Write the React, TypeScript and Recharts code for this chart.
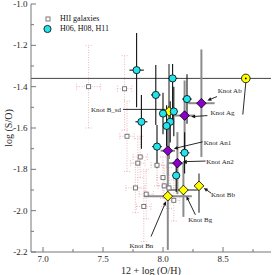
import React from 'react';
import { ScatterChart, Scatter, XAxis, YAxis, ErrorBar, ReferenceLine, Legend } from 'recharts';

const FONT = '"Liberation Serif", "Times New Roman", serif';
const AXIS_COLOR = '#767676';
const TEXT_COLOR = '#1e1e1e';

const xDomain = [6.9, 8.9];
const yDomain = [-2.2, -1.0];
const xTicks = [7.0, 7.25, 7.5, 7.75, 8.0, 8.25, 8.5, 8.75];
const yTicks = [-2.2, -2.1, -2.0, -1.9, -1.8, -1.7, -1.6, -1.5, -1.4, -1.3, -1.2, -1.1, -1.0];
const solarSO = -1.36;

// HII galaxies (gray squares); ey as [down, up] where asymmetric
const hiiGalaxies = [
  { x: 7.38, y: -1.40, ex: 0.10, ey: 0.20 },
  { x: 7.68, y: -1.41, ex: 0.06, ey: [0.2, 0.16] },
  { x: 7.70, y: -1.64, ex: 0.06, ey: 0.17 },
  { x: 7.81, y: -1.74, ex: 0.06, ey: 0.10 },
  { x: 7.79, y: -1.77, ex: 0.06, ey: 0.12 },
  { x: 7.95, y: -1.78, ex: 0.05, ey: 0.10 },
  { x: 8.00, y: -1.84, ex: 0.05, ey: 0.10 },
  { x: 7.77, y: -1.89, ex: 0.08, ey: 0.12 },
  { x: 8.01, y: -1.88, ex: 0.05, ey: 0.10 },
  { x: 8.05, y: -1.89, ex: 0.05, ey: 0.10 },
  { x: 7.86, y: -1.92, ex: 0.06, ey: 0.12 },
  { x: 8.09, y: -1.95, ex: 0.05, ey: 0.10 },
  { x: 7.84, y: -1.98, ex: 0.06, ey: 0.17 },
];

// H06, H08, H11 (cyan circles)
const hSamples = [
  { x: 7.78, y: -1.32, ex: 0.06, ey: 0.18 },
  { x: 8.08, y: -1.36, ex: 0.04, ey: [0.22, 0.07] },
  { x: 7.94, y: -1.44, ex: 0.04, ey: 0.145 },
  { x: 8.20, y: -1.46, ex: 0.04, ey: 0.12 },
  { x: 7.82, y: -1.57, ex: 0.05, ey: 0.13 },
  { x: 8.00, y: -1.53, ex: 0.03, ey: 0.10 },
  { x: 8.09, y: -1.52, ex: 0.03, ey: 0.12 },
  { x: 8.06, y: -1.57, ex: 0.03, ey: 0.10 },
  { x: 8.03, y: -1.59, ex: 0.03, ey: 0.10 },
  { x: 7.95, y: -1.69, ex: 0.04, ey: 0.105 },
  { x: 8.18, y: -1.72, ex: 0.04, ey: 0.10 },
  { x: 8.11, y: -1.83, ex: 0.03, ey: 0.08 },
];

// Knots A (purple diamonds)
const knotsA = [
  { name: 'Ab', x: 8.32, y: -1.48, ex: 0.11, ey: 0.26 },
  { name: 'Ag', x: 8.18, y: -1.54, ex: 0.08, ey: 0.17 },
  { name: 'An1', x: 8.04, y: -1.71, ex: 0.06, ey: 0.12 },
  { name: 'An2', x: 8.12, y: -1.77, ex: 0.08, ey: 0.15 },
];

// Knots B (yellow diamonds)
const knotsB = [
  { name: 'B_sd', x: 8.05, y: -1.52, ex: 0.04, ey: 0.23 },
  { name: 'Bb', x: 8.30, y: -1.88, ex: 0.04, ey: [0.13, 0.06] },
  { name: 'Bg', x: 8.17, y: -1.90, ex: 0.12, ey: 0.13 },
  { name: 'Bn', x: 8.04, y: -1.93, ex: 0.2, ey: [0.26, 0.2] },
];

const sun = [{ x: 8.69, y: -1.36 }];

const labels = [
  { text: 'Knot Ab', x: 8.556, y: -1.42 },
  { text: 'Knot Ag', x: 8.496, y: -1.525 },
  { text: 'Knot An1', x: 8.454, y: -1.67 },
  { text: 'Knot An2', x: 8.475, y: -1.763 },
  { text: 'Knot Bb', x: 8.50, y: -1.92 },
  { text: 'Knot Bg', x: 8.31, y: -2.045 },
  { text: 'Knot Bn', x: 7.82, y: -2.17 },
  { text: 'Knot B_sd', x: 7.525, y: -1.51 },
];

const arrows = [
  { x1: 8.45, y1: -1.448, x2: 8.37, y2: -1.467, head: true },
  { x1: 8.37, y1: -1.54, x2: 8.235, y2: -1.545, head: true },
  { x1: 8.33, y1: -1.667, x2: 8.09, y2: -1.70, head: true },
  { x1: 8.355, y1: -1.76, x2: 8.165, y2: -1.763, head: true },
  { x1: 8.40, y1: -1.915, x2: 8.34, y2: -1.89, head: true },
  { x1: 8.27, y1: -2.02, x2: 8.195, y2: -1.93, head: true },
  { x1: 7.90, y1: -2.125, x2: 8.025, y2: -1.955, head: true },
  { x1: 7.667, y1: -1.51, x2: 8.02, y2: -1.51, head: false },
  { x1: 8.69, y1: -1.38, x2: 8.665, y2: -1.535, head: false },
];

const isMajorX = (v: number) => Math.abs(v * 2 - Math.round(v * 2)) < 1e-6;
const isMajorY = (v: number) => Math.abs(v * 5 - Math.round(v * 5)) < 1e-6;

const BottomTick = (p: any) => {
  const { x, y, payload } = p;
  const v = payload.value;
  const major = isMajorX(v);
  return (
    <g>
      <line x1={x} x2={x} y1={y} y2={y - (major ? 5 : 3)} stroke={AXIS_COLOR} strokeWidth={1} />
      {major && (
        <text x={x} y={y + 9.5} textAnchor="middle" fontSize={9} fill={TEXT_COLOR} fontFamily={FONT}>
          {v.toFixed(1)}
        </text>
      )}
    </g>
  );
};

const TopTick = (p: any) => {
  const { x, y, payload } = p;
  const major = isMajorX(payload.value);
  return <line x1={x} x2={x} y1={y} y2={y + (major ? 5 : 3)} stroke={AXIS_COLOR} strokeWidth={1} />;
};

const LeftTick = (p: any) => {
  const { x, y, payload } = p;
  const v = payload.value;
  const major = isMajorY(v);
  return (
    <g>
      <line x1={x} x2={x + (major ? 5 : 3)} y1={y} y2={y} stroke={AXIS_COLOR} strokeWidth={1} />
      {major && (
        <text x={x - 3.5} y={y + 3} textAnchor="end" fontSize={9} fill={TEXT_COLOR} fontFamily={FONT}>
          {v.toFixed(1)}
        </text>
      )}
    </g>
  );
};

const RightTick = (p: any) => {
  const { x, y, payload } = p;
  const major = isMajorY(payload.value);
  return <line x1={x} x2={x - (major ? 5 : 3)} y1={y} y2={y} stroke={AXIS_COLOR} strokeWidth={1} />;
};

const YTitle = (props: any) => {
  const vb = props.viewBox || {};
  const cy = typeof vb.y === 'number' && typeof vb.height === 'number' ? vb.y + vb.height / 2 : 128;
  const cx = 12;
  return (
    <text
      x={cx}
      y={cy}
      transform={`rotate(-90, ${cx}, ${cy})`}
      textAnchor="middle"
      fontSize={10}
      fill={TEXT_COLOR}
      fontFamily={FONT}
    >
      log (S/O)
    </text>
  );
};

const squareShape = (p: any) => (
  <rect x={p.cx - 2} y={p.cy - 2} width={4} height={4} fill="#fff" stroke="#6a6a6a" strokeWidth={0.9} />
);
const cyanShape = (p: any) => (
  <circle cx={p.cx} cy={p.cy} r={3.6} fill="#22e4ea" stroke="#000" strokeWidth={0.8} />
);
const diamond = (fill: string) => (p: any) => {
  const s = 4.8;
  return (
    <polygon
      points={`${p.cx},${p.cy - s} ${p.cx + s},${p.cy} ${p.cx},${p.cy + s} ${p.cx - s},${p.cy}`}
      fill={fill}
      stroke="#000"
      strokeWidth={0.8}
    />
  );
};
const sunShape = (p: any) => (
  <g>
    <circle cx={p.cx} cy={p.cy} r={4.3} fill="#ffff00" stroke="#000" strokeWidth={0.8} />
    <circle cx={p.cx} cy={p.cy} r={0.9} fill="#000" />
  </g>
);
const labelShape = (p: any) => (
  <text x={p.cx} y={p.cy + 2.4} textAnchor="middle" fontSize={7} fill="#1e1e1e" fontFamily={FONT}>
    {p.payload.text}
  </text>
);

const arrowShape = (head: boolean) => (p: any) => {
  const { x1, y1, x2, y2 } = p;
  const dx = x2 - x1;
  const dy = y2 - y1;
  const len = Math.sqrt(dx * dx + dy * dy) || 1;
  const ux = dx / len;
  const uy = dy / len;
  const hl = 4;
  const hw = 1.8;
  const bx = x2 - ux * hl;
  const by = y2 - uy * hl;
  return (
    <g>
      <line x1={x1} y1={y1} x2={head ? bx : x2} y2={head ? by : y2} stroke="#111" strokeWidth={0.9} />
      {head && (
        <polygon
          points={`${x2},${y2} ${bx - uy * hw},${by + ux * hw} ${bx + uy * hw},${by - ux * hw}`}
          fill="#111"
        />
      )}
    </g>
  );
};

const LegendContent = () => (
  <div style={{ fontFamily: FONT, fontSize: 8, color: '#111', lineHeight: '10px' }}>
    <div style={{ display: 'flex', alignItems: 'center', height: 10 }}>
      <svg width={12} height={10} style={{ display: 'block' }}>
        <rect x={4} y={3} width={4} height={4} fill="#fff" stroke="#6a6a6a" strokeWidth={0.9} />
      </svg>
      <span style={{ marginLeft: 6, whiteSpace: 'nowrap' }}>HII galaxies</span>
    </div>
    <div style={{ display: 'flex', alignItems: 'center', height: 10 }}>
      <svg width={12} height={10} style={{ display: 'block' }}>
        <circle cx={5.5} cy={5} r={3.6} fill="#22e4ea" stroke="#000" strokeWidth={0.8} />
      </svg>
      <span style={{ marginLeft: 6, whiteSpace: 'nowrap' }}>H06, H08, H11</span>
    </div>
  </div>
);

export default function App() {
  return (
    <div style={{ position: 'absolute', left: 0, top: 0, width: 275, height: 275, background: '#fff', fontFamily: FONT }}>
      <ScatterChart width={275} height={275} margin={{ top: 4, right: 4, bottom: 0, left: 0 }}>
        <XAxis
          xAxisId="b"
          type="number"
          dataKey="x"
          domain={xDomain}
          allowDataOverflow
          ticks={xTicks}
          interval={0}
          height={23}
          tickLine={false}
          tickSize={0}
          tickMargin={0}
          axisLine={{ stroke: AXIS_COLOR, strokeWidth: 1 }}
          tick={(p: any) => <BottomTick {...p} />}
          label={{ value: '12 + log (O/H)', position: 'insideBottom', offset: 1, fontSize: 10, fill: TEXT_COLOR, fontFamily: FONT }}
        />
        <XAxis
          xAxisId="t"
          orientation="top"
          type="number"
          dataKey="x"
          domain={xDomain}
          allowDataOverflow
          ticks={xTicks}
          interval={0}
          height={0}
          tickLine={false}
          tickSize={0}
          tickMargin={0}
          axisLine={{ stroke: AXIS_COLOR, strokeWidth: 1 }}
          tick={(p: any) => <TopTick {...p} />}
        />
        <YAxis
          yAxisId="l"
          type="number"
          dataKey="y"
          domain={yDomain}
          allowDataOverflow
          ticks={yTicks}
          interval={0}
          width={31}
          tickLine={false}
          tickSize={0}
          tickMargin={0}
          axisLine={{ stroke: AXIS_COLOR, strokeWidth: 1 }}
          tick={(p: any) => <LeftTick {...p} />}
          label={{ content: (lp: any) => <YTitle {...lp} /> }}
        />
        <YAxis
          yAxisId="r"
          orientation="right"
          type="number"
          dataKey="y"
          domain={yDomain}
          allowDataOverflow
          ticks={yTicks}
          interval={0}
          width={0}
          tickLine={false}
          tickSize={0}
          tickMargin={0}
          axisLine={{ stroke: AXIS_COLOR, strokeWidth: 1 }}
          tick={(p: any) => <RightTick {...p} />}
        />

        <ReferenceLine xAxisId="b" yAxisId="l" y={solarSO} stroke="#444" strokeWidth={1} />

        <Scatter xAxisId="b" yAxisId="l" name="HII galaxies" data={hiiGalaxies} shape={squareShape} isAnimationActive={false}>
          <ErrorBar dataKey="ey" direction="y" width={3} stroke="#e7a3ab" strokeWidth={0.8} strokeDasharray="1 1.5" />
          <ErrorBar dataKey="ex" direction="x" width={3} stroke="#e7a3ab" strokeWidth={0.8} strokeDasharray="1 1.5" />
        </Scatter>

        <Scatter xAxisId="b" yAxisId="l" name="Knots A" data={knotsA} shape={diamond('#8a00c8')} isAnimationActive={false}>
          <ErrorBar dataKey="ey" direction="y" width={0} stroke="#8c8c8c" strokeWidth={2} />
          <ErrorBar dataKey="ex" direction="x" width={0} stroke="#8c8c8c" strokeWidth={2} />
        </Scatter>
        <Scatter xAxisId="b" yAxisId="l" name="Knots B" data={knotsB} shape={diamond('#ffff00')} isAnimationActive={false}>
          <ErrorBar dataKey="ey" direction="y" width={0} stroke="#8c8c8c" strokeWidth={2} />
          <ErrorBar dataKey="ex" direction="x" width={0} stroke="#8c8c8c" strokeWidth={2} />
        </Scatter>

        <Scatter xAxisId="b" yAxisId="l" name="H06, H08, H11" data={hSamples} shape={cyanShape} isAnimationActive={false}>
          <ErrorBar dataKey="ey" direction="y" width={0} stroke="#111" strokeWidth={1.1} />
          <ErrorBar dataKey="ex" direction="x" width={0} stroke="#111" strokeWidth={1.1} />
        </Scatter>

        {arrows.map((a, i) => (
          <ReferenceLine
            key={i}
            xAxisId="b"
            yAxisId="l"
            segment={[{ x: a.x1, y: a.y1 }, { x: a.x2, y: a.y2 }]}
            shape={arrowShape(a.head)}
          />
        ))}

        <Scatter xAxisId="b" yAxisId="l" name="Sun" data={sun} shape={sunShape} isAnimationActive={false} />
        <Scatter xAxisId="b" yAxisId="l" name="labels" data={labels} shape={labelShape} isAnimationActive={false} />

        <Legend
          layout="vertical"
          verticalAlign="middle"
          align="center"
          wrapperStyle={{ left: 42, top: 14, width: 120, height: 20 }}
          content={() => <LegendContent />}
        />
      </ScatterChart>
    </div>
  );
}
